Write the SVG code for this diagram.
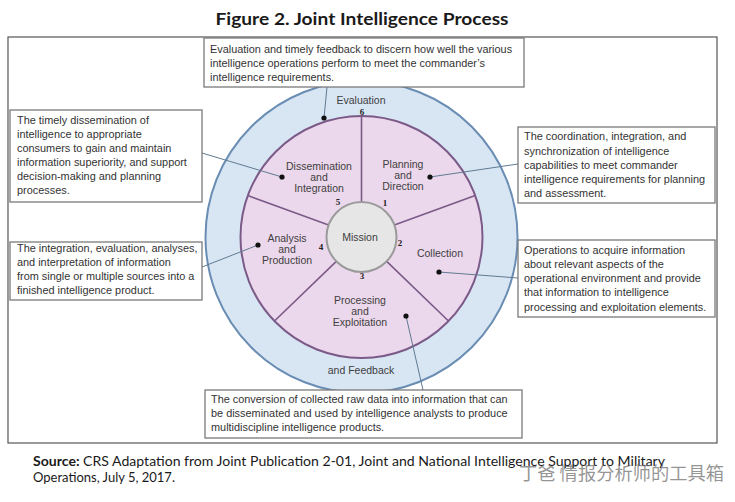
<svg xmlns="http://www.w3.org/2000/svg" width="735" height="502" viewBox="0 0 735 502">
<style>
.box{fill:#fff;stroke:#7a7a7a;stroke-width:1.3}
.bt{font-family:"Liberation Sans",Arial,sans-serif;font-size:10.9px;fill:#333}
.lbl{font-family:"Liberation Sans",Arial,sans-serif;font-size:10.5px;fill:#404040;text-anchor:middle}
.num{font-family:"Liberation Serif",serif;font-size:9px;font-weight:bold;fill:#222;text-anchor:middle}
.lead{stroke:#5f7a92;stroke-width:1;fill:none}
.dot{fill:#111}
.spoke{stroke:#7b5a88;stroke-width:1.6}
</style>
<rect width="735" height="502" fill="#fff"/>
<text x="362" y="25" text-anchor="middle" font-family="Lato,'Open Sans',sans-serif" font-weight="bold" font-size="17" fill="#1a1a1a" textLength="293" lengthAdjust="spacingAndGlyphs">Figure 2. Joint Intelligence Process</text>
<rect x="8" y="37" width="709" height="406" fill="#fff" stroke="#555" stroke-width="1.2"/>

<g id="cycle">
<circle cx="361.5" cy="237" r="156" fill="#d8e6f4" stroke="#6a8db3" stroke-width="2"/>
<circle cx="361.5" cy="237" r="121" fill="#ecd8ec" stroke="#7b5a88" stroke-width="2"/>
<g id="spokes">
<line class="spoke" x1="361.5" y1="202" x2="361.5" y2="116"/>
<line class="spoke" x1="394.4" y1="225" x2="475.2" y2="195.6"/>
<line class="spoke" x1="386.7" y1="261.3" x2="448.5" y2="321"/>
<line class="spoke" x1="336.3" y1="261.3" x2="274.5" y2="321"/>
<line class="spoke" x1="328.6" y1="225" x2="247.8" y2="195.6"/>
</g>
<circle cx="361.5" cy="237" r="35" fill="#e6e6e6" stroke="#9a9a9a" stroke-width="2"/>
</g>

<g id="mission"><text class="lbl" x="360" y="241" font-size="12">Mission</text></g>
<g id="evaluation"><text class="lbl" x="361" y="104" font-size="12">Evaluation</text><text class="lbl" x="361" y="374" font-size="12">and Feedback</text><text class="num" x="362" y="115" font-size="8">6</text></g>
<g id="planning"><text class="lbl" x="403" y="168">Planning</text><text class="lbl" x="403" y="179">and</text><text class="lbl" x="403" y="190">Direction</text><text class="num" x="385" y="206">1</text></g>
<g id="collection"><text class="lbl" x="440" y="257">Collection</text><text class="num" x="400" y="246">2</text></g>
<g id="processing"><text class="lbl" x="360" y="304">Processing</text><text class="lbl" x="360" y="315">and</text><text class="lbl" x="360" y="326">Exploitation</text><text class="num" x="362" y="279">3</text></g>
<g id="analysis"><text class="lbl" x="287" y="242">Analysis</text><text class="lbl" x="287" y="253">and</text><text class="lbl" x="287" y="264">Production</text><text class="num" x="321" y="250">4</text></g>
<g id="dissemination"><text class="lbl" x="319" y="170">Dissemination</text><text class="lbl" x="319" y="181">and</text><text class="lbl" x="319" y="192">Integration</text><text class="num" x="338" y="205">5</text></g>

<g id="connectors">
<line class="lead" x1="327" y1="87" x2="324" y2="118"/>
<line class="lead" x1="202" y1="153" x2="282" y2="177"/>
<line class="lead" x1="518" y1="164" x2="430" y2="177"/>
<line class="lead" x1="202" y1="267" x2="258" y2="245"/>
<line class="lead" x1="518" y1="278" x2="439" y2="272"/>
<line class="lead" x1="423" y1="390" x2="406" y2="316"/>
<circle class="dot" cx="324" cy="118" r="2.6"/>
<circle class="dot" cx="282" cy="177" r="2.6"/>
<circle class="dot" cx="430" cy="177" r="2.6"/>
<circle class="dot" cx="258" cy="245" r="2.6"/>
<circle class="dot" cx="439" cy="272" r="2.6"/>
<circle class="dot" cx="406" cy="316" r="2.6"/>
</g>

<g id="box-evaluation">
<rect class="box" x="204" y="38" width="320" height="49"/>
<text class="bt" x="210" y="53">Evaluation and timely feedback to discern how well the various</text>
<text class="bt" x="210" y="67">intelligence operations perform to meet the commander’s</text>
<text class="bt" x="210" y="81">intelligence requirements.</text>
</g>
<g id="box-dissemination">
<rect class="box" x="10" y="110" width="192" height="92"/>
<text class="bt" x="17" y="124">The timely dissemination of</text>
<text class="bt" x="17" y="138">intelligence to appropriate</text>
<text class="bt" x="17" y="152">consumers to gain and maintain</text>
<text class="bt" x="17" y="166">information superiority, and support</text>
<text class="bt" x="17" y="180">decision-making and planning</text>
<text class="bt" x="17" y="194">processes.</text>
</g>
<g id="box-analysis">
<rect class="box" x="10" y="242" width="192" height="58"/>
<text class="bt" x="17" y="252">The integration, evaluation, analyses,</text>
<text class="bt" x="17" y="266">and interpretation of information</text>
<text class="bt" x="17" y="280">from single or multiple sources into a</text>
<text class="bt" x="17" y="294">finished intelligence product.</text>
</g>
<g id="box-planning">
<rect class="box" x="518" y="127" width="197" height="76"/>
<text class="bt" x="524" y="140">The coordination, integration, and</text>
<text class="bt" x="524" y="155">synchronization of intelligence</text>
<text class="bt" x="524" y="169">capabilities to meet commander</text>
<text class="bt" x="524" y="183">intelligence requirements for planning</text>
<text class="bt" x="524" y="197">and assessment.</text>
</g>
<g id="box-collection">
<rect class="box" x="518" y="240" width="197" height="77"/>
<text class="bt" x="524" y="254">Operations to acquire information</text>
<text class="bt" x="524" y="268">about relevant aspects of the</text>
<text class="bt" x="524" y="282">operational environment and provide</text>
<text class="bt" x="524" y="296">that information to intelligence</text>
<text class="bt" x="524" y="311">processing and exploitation elements.</text>
</g>
<g id="box-processing">
<rect class="box" x="205" y="390" width="317" height="48"/>
<text class="bt" x="211" y="403">The conversion of collected raw data into information that can</text>
<text class="bt" x="211" y="417">be disseminated and used by intelligence analysts to produce</text>
<text class="bt" x="211" y="431">multidiscipline intelligence products.</text>
</g>

<g id="source" font-family="Lato,'Open Sans',sans-serif" font-size="13" fill="#1a1a1a">
<text x="33" y="466" textLength="632" lengthAdjust="spacingAndGlyphs"><tspan font-weight="bold">Source:</tspan> CRS Adaptation from Joint Publication 2-01, Joint and National Intelligence Support to Military</text>
<text x="33" y="482">Operations, July 5, 2017.</text>
</g>
<text x="519" y="480" font-family="'Noto Sans CJK SC',sans-serif" font-size="18" fill="#666" fill-opacity="0.7" textLength="205" lengthAdjust="spacingAndGlyphs">丁爸 情报分析师的工具箱</text>
</svg>
